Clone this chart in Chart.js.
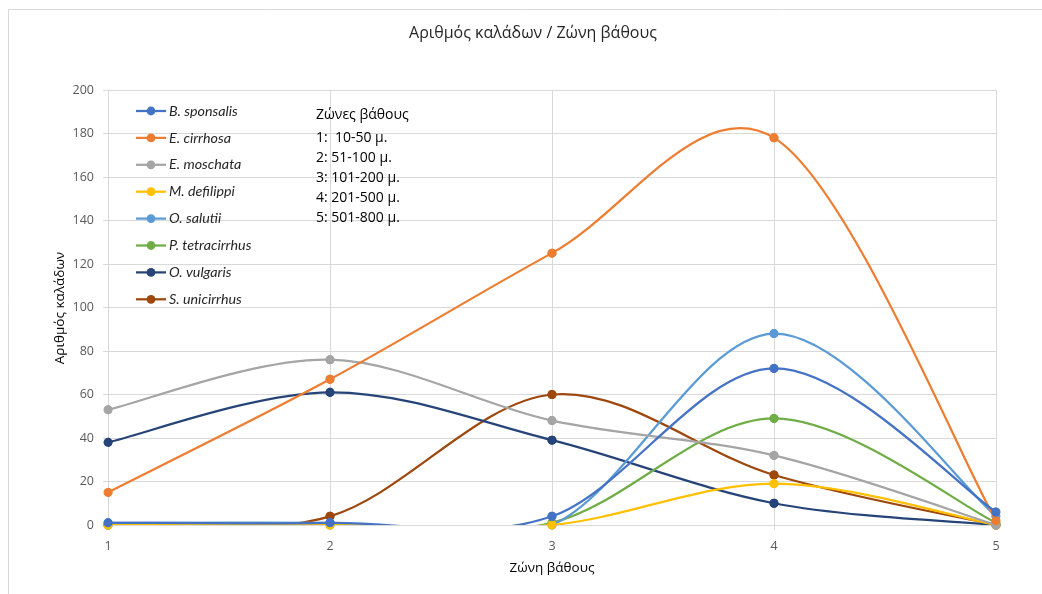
<!DOCTYPE html>
<html>
<head>
<meta charset="utf-8">
<script src="https://cdn.jsdelivr.net/npm/chart.js@4/dist/chart.umd.min.js"></script>
<style>
  html, body { margin: 0; padding: 0; background: #ffffff; }
  #wrap { width: 1042px; height: 594px; }
</style>
</head>
<body>
<div id="wrap"><canvas id="chart" width="1042" height="594"></canvas></div>
<script>
// Depth zones (x values)
const zones = [1, 2, 3, 4, 5];

// Catch per species for each depth zone
const bSponsalis    = [1, 1, 4, 72, 6];
const eCirrhosa     = [15, 67, 125, 178, 2];
const eMoschata     = [53, 76, 48, 32, 0];
const mDefilippi    = [0, 0, 0, 19, 0];
const oSalutii      = [1, 1, 0, 88, 4];
const pTetracirrhus = [0, 0, 1, 49, 1];
const oVulgaris     = [38, 61, 39, 10, 0];
const sUnicirrhus   = [0, 4, 60, 23, 0];

const speciesNames = ['B. sponsalis', 'E. cirrhosa', 'E. moschata', 'M. defilippi',
                      'O. salutii', 'P. tetracirrhus', 'O. vulgaris', 'S. unicirrhus'];
const speciesValues = [bSponsalis, eCirrhosa, eMoschata, mDefilippi,
                       oSalutii, pTetracirrhus, oVulgaris, sUnicirrhus];
const speciesColors = ['#4472C4', '#ED7D31', '#A5A5A5', '#FFC000',
                       '#5B9BD5', '#70AD47', '#264478', '#9E480E'];

const chartTitle = 'Αριθμός καλάδων / Ζώνη βάθους';
const xAxisTitle = 'Ζώνη βάθους';
const yAxisTitle = 'Αριθμός καλάδων';
const zoneNotes = ['Ζώνες βάθους', '1:  10-50 μ.', '2: 51-100 μ.', '3: 101-200 μ.',
                   '4: 201-500 μ.', '5: 501-800 μ.'];

const datasets = speciesNames.map((name, i) => ({
  label: name,
  data: zones.map((z, k) => ({ x: z, y: speciesValues[i][k] })),
  borderColor: speciesColors[i],
  backgroundColor: speciesColors[i],
  pointBackgroundColor: speciesColors[i],
  pointBorderColor: speciesColors[i],
  borderWidth: 2.25,
  pointRadius: 3.9,
  pointBorderWidth: 1.2,
  showLine: true,
  tension: 0.5,
  fill: false
}));

const TEXT_FONT = '"Open Sans", "Noto Sans", sans-serif';

// Smooth each line as a uniform Catmull-Rom spline through its points
function catmullRom(points) {
  const n = points.length;
  for (let i = 0; i < n; i++) {
    const prev = points[Math.max(i - 1, 0)];
    const next = points[Math.min(i + 1, n - 1)];
    const cur = points[i];
    const dx = (next.x - prev.x) / 6;
    const dy = (next.y - prev.y) / 6;
    cur.cp1x = cur.x - dx; cur.cp1y = cur.y - dy;
    cur.cp2x = cur.x + dx; cur.cp2y = cur.y + dy;
  }
}

const decor = {
  id: 'decor',
  beforeDraw(chart) {
    const ctx = chart.ctx;
    ctx.save();
    // outer frame
    ctx.strokeStyle = '#D9D9D9';
    ctx.lineWidth = 1;
    ctx.beginPath();
    ctx.moveTo(8.5, 594);
    ctx.lineTo(8.5, 9.5);
    ctx.lineTo(1042, 9.5);
    ctx.stroke();
    // chart title
    ctx.fillStyle = '#262626';
    ctx.font = '16px ' + TEXT_FONT;
    ctx.textAlign = 'center';
    ctx.textBaseline = 'middle';
    ctx.fillText(chartTitle, 533, 33);
    // axis titles
    const area = chart.chartArea;
    ctx.font = '13.5px ' + TEXT_FONT;
    ctx.fillStyle = '#000000';
    ctx.fillText(xAxisTitle, (area.left + area.right) / 2, 568);
    ctx.translate(60, 308);
    ctx.rotate(-Math.PI / 2);
    ctx.fillText(yAxisTitle, 0, 0);
    ctx.restore();
  },
  beforeDatasetDraw(chart, args) {
    const line = args.meta.dataset;
    const pts = args.meta.data;
    if (!line || pts.length < 2) return;
    if (typeof line.updateControlPoints === 'function') {
      line.updateControlPoints(chart.chartArea, 'x');
    }
    catmullRom(pts);
    line._path = undefined;
  },
  afterDatasetDraw(chart, args) {
    // markers are drawn whole, even where the line itself is clipped at the axis
    const ctx = chart.ctx;
    args.meta.data.forEach(pt => pt.draw(ctx, chart.chartArea));
  },
  afterDraw(chart) {
    const ctx = chart.ctx;
    ctx.save();
    // legend inside the plot area
    ctx.textBaseline = 'middle';
    ctx.textAlign = 'left';
    ctx.font = 'italic 14.3px Lato, "Open Sans", sans-serif';
    chart.data.datasets.forEach((ds, i) => {
      const y = 111 + i * 26.9;
      ctx.strokeStyle = ds.borderColor;
      ctx.lineWidth = 2.25;
      ctx.beginPath();
      ctx.moveTo(136, y);
      ctx.lineTo(166, y);
      ctx.stroke();
      ctx.fillStyle = ds.borderColor;
      ctx.beginPath();
      ctx.arc(151, y, 4.4, 0, Math.PI * 2);
      ctx.fill();
      ctx.fillStyle = '#262626';
      ctx.fillText(ds.label, 169, y);
    });
    // depth zone notes
    ctx.font = '14px ' + TEXT_FONT;
    ctx.fillStyle = '#000000';
    zoneNotes.forEach((line, i) => {
      const y = i === 0 ? 115 : 138 + (i - 1) * 19.9;
      ctx.fillText(line, 316, y);
    });
    ctx.restore();
  }
};

new Chart(document.getElementById('chart'), {
  type: 'scatter',
  data: { datasets },
  options: {
    responsive: false,
    animation: false,
    layout: { padding: { top: 90, right: 46, left: 0, bottom: 0 } },
    elements: { line: { capBezierPoints: false } },
    plugins: {
      legend: { display: false },
      title: { display: false },
      tooltip: { enabled: false }
    },
    scales: {
      x: {
        type: 'linear',
        min: 1,
        max: 5,
        afterFit(scale) { scale.height = 69; },
        ticks: { stepSize: 1, color: '#595959', padding: 9, font: { size: 12.5, family: TEXT_FONT } },
        grid: { color: '#D9D9D9', lineWidth: 1, tickLength: 5 },
        border: { color: '#D9D9D9' }
      },
      y: {
        type: 'linear',
        min: 0,
        max: 200,
        afterFit(scale) { scale.width = 108; },
        ticks: { stepSize: 20, color: '#595959', padding: 9, font: { size: 12.5, family: TEXT_FONT } },
        grid: { color: '#D9D9D9', lineWidth: 1, tickLength: 5 },
        border: { color: '#D9D9D9' }
      }
    }
  },
  plugins: [decor]
});
</script>
</body>
</html>
